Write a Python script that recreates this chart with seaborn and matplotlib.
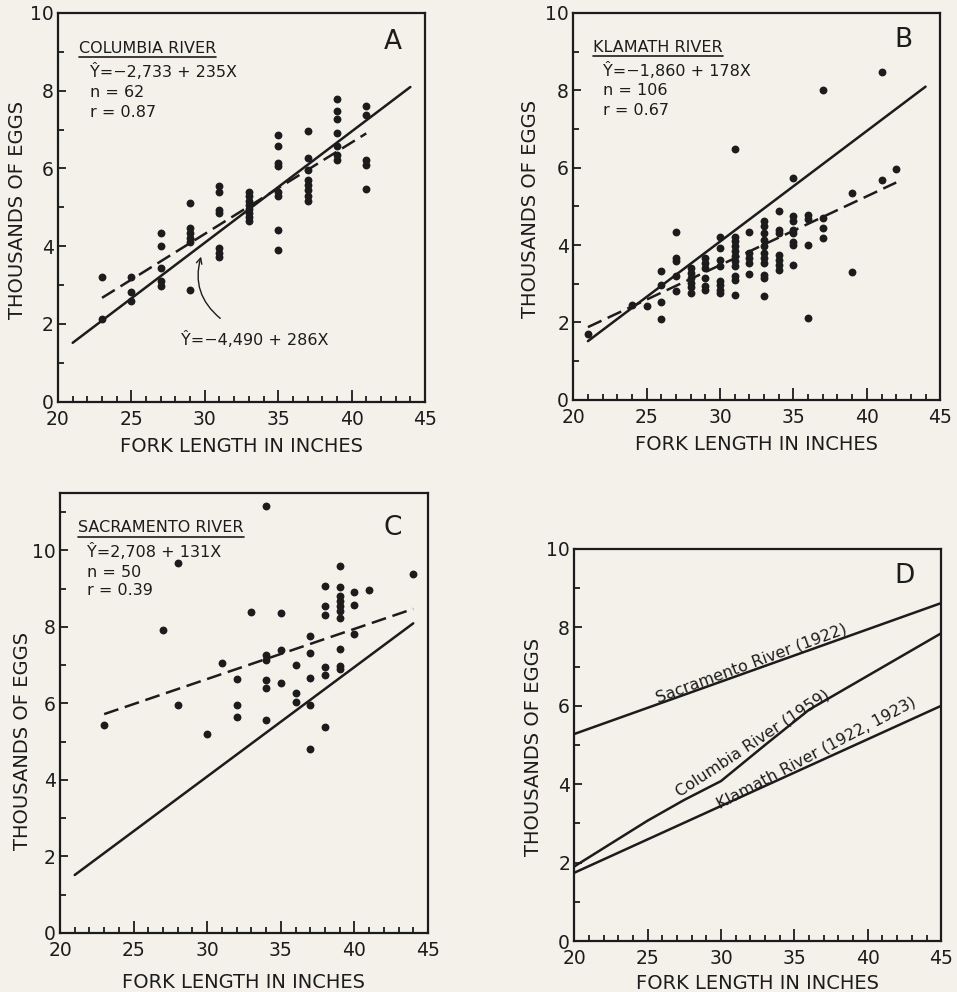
import numpy as np
import pandas as pd
import seaborn as sns
import matplotlib.pyplot as plt
from matplotlib.ticker import MultipleLocator

# fork length (inches) -> eggs (thousands)
columbia_pts = {
    23: [2.12, 3.22],
    25: [2.58, 2.83, 3.22],
    27: [2.98, 3.10, 3.43, 4.00, 4.33],
    29: [2.88, 4.10, 4.20, 4.33, 4.46, 5.10],
    31: [3.72, 3.82, 3.95, 4.85, 4.94, 5.40, 5.54],
    33: [4.65, 4.75, 4.85, 4.95, 5.05, 5.15, 5.30, 5.40],
    35: [3.89, 4.42, 5.28, 5.40, 6.05, 6.15, 6.57, 6.87],
    37: [5.17, 5.28, 5.45, 5.58, 5.70, 5.97, 6.27, 6.95],
    39: [6.22, 6.35, 6.57, 6.91, 7.28, 7.48, 7.79],
    41: [5.48, 6.10, 6.22, 7.38, 7.60],
}
klamath_pts = {
    21: [1.70],
    24: [2.46],
    25: [2.43],
    26: [2.09, 2.54, 2.97, 3.32],
    27: [2.82, 3.19, 3.58, 3.66, 4.34],
    28: [2.76, 2.91, 3.02, 3.15, 3.28, 3.40],
    29: [2.84, 2.93, 3.15, 3.40, 3.53, 3.66],
    30: [2.76, 2.84, 2.96, 3.06, 3.45, 3.62, 3.92, 4.20],
    31: [2.72, 3.10, 3.19, 3.45, 3.58, 3.71, 3.84, 3.97, 4.10, 4.20, 6.49],
    32: [3.26, 3.53, 3.66, 3.79, 4.33],
    33: [2.67, 3.15, 3.23, 3.53, 3.66, 3.79, 3.97, 4.14, 4.31, 4.48, 4.61],
    34: [3.36, 3.49, 3.62, 3.75, 4.31, 4.40, 4.89],
    35: [3.49, 3.99, 4.09, 4.31, 4.40, 4.61, 4.74, 5.72],
    36: [2.11, 4.01, 4.66, 4.77],
    37: [4.18, 4.44, 4.70, 8.00],
    39: [3.29, 5.34],
    41: [5.69, 8.47],
    42: [5.97],
}
sacramento_pts = {
    23: [5.43],
    27: [7.91],
    28: [5.97, 9.67],
    30: [5.20],
    31: [7.07],
    32: [5.64, 5.95, 6.65],
    33: [8.38],
    34: [5.57, 6.40, 6.60, 7.14, 7.27, 11.17],
    35: [6.53, 7.39, 8.36],
    36: [6.05, 6.27, 7.01],
    37: [4.81, 5.95, 6.66, 7.32, 7.75],
    38: [5.38, 6.75, 6.95, 8.32, 8.54, 9.08],
    39: [6.90, 6.99, 7.42, 8.23, 8.41, 8.54, 8.67, 8.80, 9.04, 9.58],
    40: [7.81, 8.58, 8.91],
    41: [8.97],
    44: [9.38],
}

# regression lines (intercept, slope in thousands of eggs) and their x extent
columbia_1959_fit = (-4.490, 0.286)
columbia_fit = (-2.733, 0.235)
klamath_fit = (-1.860, 0.178)
sacramento_fit = (2.708, 0.131)
solid_range = [21, 44]
columbia_range = [23, 41]
klamath_range = [21, 42]
sacramento_range = [23, 44]

# panel D curves
d_len = [20, 45]
d_sacramento = [5.28, 8.62]
d_klamath = [1.74, 6.00]
d_columbia_len = [20, 25, 27.5, 30, 33, 36, 45]
d_columbia = [1.90, 3.07, 3.60, 4.08, 5.00, 5.90, 7.85]

paper = "#f3f1ea"
ink = "#1c1c1c"

sns.set_style("ticks")
plt.rcParams['font.family'] = ['DejaVu Sans']
plt.rcParams['text.color'] = ink
plt.rcParams['axes.labelcolor'] = ink
plt.rcParams['xtick.color'] = ink
plt.rcParams['ytick.color'] = ink


def to_frame(pts):
    rows = [(x, y) for x, ys in pts.items() for y in ys]
    return pd.DataFrame(rows, columns=["length", "eggs"])


def style_axes(ax, ymax, xlab_y, ylab_x, ylab_y):
    ax.set_facecolor(paper)
    ax.set_xlim(20, 45)
    ax.set_ylim(0, ymax)
    ax.xaxis.set_major_locator(MultipleLocator(5))
    ax.xaxis.set_minor_locator(MultipleLocator(1))
    ax.yaxis.set_major_locator(MultipleLocator(2))
    ax.yaxis.set_minor_locator(MultipleLocator(1))
    ax.tick_params(which='both', direction='in', width=1.3, labelsize=13.5, pad=3)
    ax.tick_params(axis='x', which='major', length=9, pad=6)
    ax.tick_params(axis='x', which='minor', length=4.5)
    ax.tick_params(axis='y', which='major', length=6)
    ax.tick_params(axis='y', which='minor', length=4)
    for sp in ax.spines.values():
        sp.set_visible(True)
        sp.set_linewidth(1.6)
        sp.set_color(ink)
    ax.set_xlabel("FORK LENGTH IN INCHES", fontsize=14)
    ax.set_ylabel("THOUSANDS OF EGGS", fontsize=14)
    ax.xaxis.set_label_coords(0.5, xlab_y)
    ax.yaxis.set_label_coords(ylab_x, ylab_y)


def fit_line(ax, fit, xr, dashed=False):
    xs = np.array(xr, dtype=float)
    ys = fit[0] + fit[1] * xs
    sns.lineplot(x=xs, y=ys, ax=ax, color=ink, linewidth=1.8)
    if dashed:
        ax.lines[-1].set_dashes([6, 2.7])


def header(ax, title, lines, x0, y_title, y_under, x1, ys):
    t = ax.text(x0, y_title, title, transform=ax.transAxes, fontsize=11.5)
    fig.canvas.draw()
    bb = t.get_window_extent().transformed(ax.transAxes.inverted())
    ax.plot([bb.x0, bb.x1], [y_under, y_under], transform=ax.transAxes,
            color=ink, lw=1.2)
    for s, y in zip(lines, ys):
        ax.text(x1, y, s, transform=ax.transAxes, fontsize=11.5)


def dots(ax, pts):
    sns.scatterplot(data=to_frame(pts), x="length", y="eggs", ax=ax,
                    color=ink, s=32, linewidth=0)


fig = plt.figure(figsize=(9.57, 9.92), dpi=100, facecolor=paper)
axA = fig.add_axes([0.0606, 0.595, 0.3835, 0.392])
axB = fig.add_axes([0.599, 0.597, 0.3835, 0.390])
axC = fig.add_axes([0.0627, 0.0595, 0.3845, 0.4435])
axD = fig.add_axes([0.600, 0.0514, 0.3835, 0.3952])

# A - Columbia
dots(axA, columbia_pts)
style_axes(axA, 10, -0.09, -0.084, 0.494)
fit_line(axA, columbia_1959_fit, solid_range)
fit_line(axA, columbia_fit, columbia_range, dashed=True)
header(axA, "COLUMBIA RIVER",
       ["Ŷ=−2,733 + 235X", "n = 62", "r = 0.87"],
       0.057, 0.898, 0.887, 0.087, [0.835, 0.784, 0.733])
axA.text(0.913, 0.925, "A", transform=axA.transAxes, fontsize=19,
         ha='center', va='center')
axA.annotate("", xy=(29.8, 3.8), xytext=(31.2, 2.1),
             arrowprops=dict(arrowstyle='->', color=ink, lw=1.0,
                             connectionstyle='arc3,rad=-0.35'))
axA.text(28.4, 1.6, "Ŷ=−4,490 + 286X", fontsize=11.5, va='center')

# B - Klamath
dots(axB, klamath_pts)
style_axes(axB, 10, -0.09, -0.09, 0.494)
fit_line(axB, columbia_1959_fit, solid_range)
fit_line(axB, klamath_fit, klamath_range, dashed=True)
header(axB, "KLAMATH RIVER",
       ["Ŷ=−1,860 + 178X", "n = 106", "r = 0.67"],
       0.055, 0.90, 0.889, 0.082, [0.837, 0.788, 0.736])
axB.text(0.899, 0.93, "B", transform=axB.transAxes, fontsize=19,
         ha='center', va='center')

# C - Sacramento
dots(axC, sacramento_pts)
style_axes(axC, 11.5, -0.091, -0.076, 0.436)
fit_line(axC, columbia_1959_fit, solid_range)
fit_line(axC, sacramento_fit, sacramento_range, dashed=True)
header(axC, "SACRAMENTO RIVER",
       ["Ŷ=2,708 + 131X", "n = 50", "r = 0.39"],
       0.05, 0.911, 0.899, 0.074, [0.855, 0.809, 0.768])
axC.text(0.905, 0.92, "C", transform=axC.transAxes, fontsize=19,
         ha='center', va='center')

# D - comparison
sns.lineplot(x=d_len, y=d_sacramento, ax=axD, color=ink, linewidth=1.8)
sns.lineplot(x=d_columbia_len, y=d_columbia, ax=axD, color=ink, linewidth=1.8)
sns.lineplot(x=d_len, y=d_klamath, ax=axD, color=ink, linewidth=1.8)
style_axes(axD, 10, -0.084, -0.084, 0.495)
axD.text(32.1, 7.08, "Sacramento River (1922)", fontsize=11.5, rotation=20.3,
         ha='center', va='center', rotation_mode='anchor')
axD.text(32.15, 5.04, "Columbia River (1959)", fontsize=11.5, rotation=33.5,
         ha='center', va='center', rotation_mode='anchor')
axD.text(36.5, 4.79, "Klamath River (1922, 1923)", fontsize=11.5, rotation=27.8,
         ha='center', va='center', rotation_mode='anchor')
axD.text(0.90, 0.93, "D", transform=axD.transAxes, fontsize=19,
         ha='center', va='center')

fig.savefig("out.png", dpi=100, facecolor=paper)
